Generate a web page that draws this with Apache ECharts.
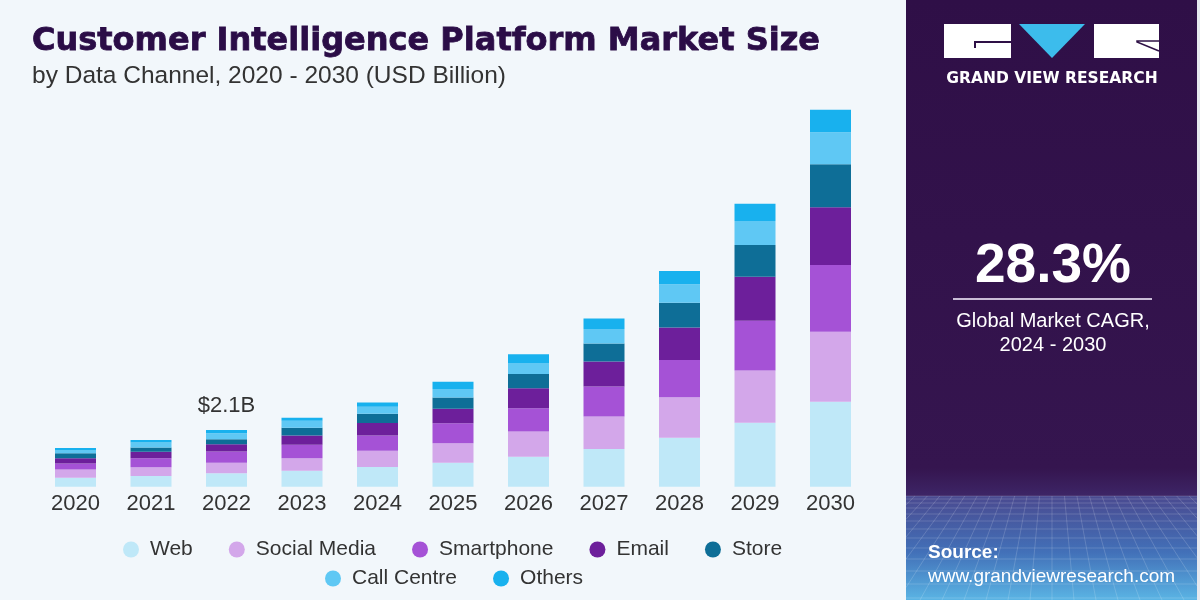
<!DOCTYPE html>
<html>
<head>
<meta charset="utf-8">
<script src="https://cdn.jsdelivr.net/npm/echarts@6/dist/echarts.min.js"></script>
<style>
html,body{margin:0;padding:0;background:#f2f7fb;}
#chart{width:1200px;height:600px;}
</style>
</head>
<body>
<div id="chart"></div>
<script>
const years = ['2020','2021','2022','2023','2024','2025','2026','2027','2028','2029','2030'];
const seriesNames = ['Web','Social Media','Smartphone','Email','Store','Call Centre','Others'];
const web         = [0.33,0.40,0.50,0.59,0.73,0.89,1.11,1.40,1.81,2.37,3.15];
const socialMedia = [0.31,0.32,0.39,0.46,0.60,0.72,0.93,1.20,1.50,1.93,2.59];
const smartphone  = [0.22,0.33,0.41,0.50,0.57,0.74,0.87,1.11,1.38,1.85,2.47];
const email       = [0.19,0.24,0.27,0.35,0.46,0.54,0.74,0.93,1.21,1.63,2.14];
const store       = [0.19,0.16,0.19,0.28,0.34,0.41,0.52,0.66,0.91,1.17,1.59];
const callCentre  = [0.10,0.19,0.22,0.26,0.26,0.32,0.41,0.54,0.69,0.89,1.19];
const others      = [0.09,0.09,0.12,0.11,0.16,0.27,0.33,0.39,0.49,0.64,0.83];
const colors = ['#bfe8f8','#d3a7ea','#a552d6','#6d1f9b','#0e6e97','#5fc8f4','#18b1ee'];
const annotatedIndex = 2;
const annotationText = '$2.1B';

const allData = [web, socialMedia, smartphone, email, store, callCentre, others];
const FONT = 'Liberation Sans, Arial, sans-serif';

const series = allData.map((arr, i) => ({
  name: seriesNames[i],
  type: 'bar',
  stack: 'total',
  barWidth: 41,
  itemStyle: { color: colors[i] },
  emphasis: { disabled: true },
  data: arr.map((v, j) => {
    if (i === allData.length - 1 && j === annotatedIndex) {
      return { value: v, label: { show: true, position: 'top', distance: 13, formatter: annotationText,
        color: '#333', fontSize: 22, fontFamily: FONT } };
    }
    return v;
  })
}));

const legendStyle = {
  icon: 'circle', itemWidth: 16, itemHeight: 16, itemGap: 36, padding: 0,
  textStyle: { color: '#333', fontSize: 21, fontFamily: FONT, padding: [0,0,0,6] },
  selectedMode: false
};

// decorative mesh in the bottom of the side panel
const PX0 = 906, PX1 = 1197, HY = 496, BY = 600;
const mesh = [];
const hLines = [496, 499, 503, 508, 514, 521, 529, 538, 548, 559, 571, 584, 598];
hLines.forEach(y => mesh.push({ type: 'line', silent: true,
  shape: { x1: PX0, y1: y, x2: PX1, y2: y }, style: { stroke: 'rgba(255,255,255,0.16)', lineWidth: 1 } }));
const vpX = 1052, vpY = 360;
for (let k = -16; k <= 16; k++) {
  const xb = vpX + k * 22;
  const xa = vpX + k * 22 * (HY - vpY) / (BY - vpY);
  let x1 = xa, y1 = HY, x2 = xb, y2 = BY;
  if (x1 < PX0 || x1 > PX1) continue;
  if (x2 < PX0 || x2 > PX1) {
    const bound = x2 < PX0 ? PX0 : PX1;
    const t = (bound - x1) / (x2 - x1);
    x2 = bound; y2 = y1 + t * (y2 - y1);
  }
  mesh.push({ type: 'line', silent: true, shape: { x1, y1, x2, y2 },
    style: { stroke: 'rgba(255,255,255,0.16)', lineWidth: 1 } });
}

const chart = echarts.init(document.getElementById('chart'));
chart.setOption({
  backgroundColor: '#f2f7fb',
  animation: false,
  title: [
    { text: 'Customer Intelligence Platform Market Size', left: 27, top: 21,
      textStyle: { color: '#2b0d47', fontSize: 32, fontWeight: 'bold', fontFamily: 'DejaVu Sans, sans-serif',
        textBorderColor: '#2b0d47', textBorderWidth: 0.8 } },
    { text: 'by Data Channel, 2020 - 2030 (USD Billion)', left: 27, top: 59,
      textStyle: { color: '#333', fontSize: 24.5, fontWeight: 'normal', fontFamily: FONT } }
  ],
  legend: [
    Object.assign({ data: seriesNames.slice(0,5), left: 123, top: 539 }, legendStyle),
    Object.assign({ data: seriesNames.slice(5), left: 325, top: 568 }, legendStyle)
  ],
  grid: { left: 37.75, right: 1200 - 868.25, top: 108.7, bottom: 113.3 },
  xAxis: {
    type: 'category', data: years,
    axisLine: { show: false }, axisTick: { show: false },
    axisLabel: { color: '#333', fontSize: 22, margin: 6, fontFamily: FONT }
  },
  yAxis: { type: 'value', min: 0, max: 14, show: false, splitLine: { show: false } },
  series: series,
  graphic: [
    { type: 'rect', shape: { x: 906, y: 0, width: 291, height: 600 }, silent: true, z: -1,
      style: { fill: new echarts.graphic.LinearGradient(0,0,0,1,[
        {offset:0,color:'#2f0f47'},{offset:0.78,color:'#35154f'},{offset:0.826,color:'#3d2566'},
        {offset:0.827,color:'#4a4a90'},{offset:0.92,color:'#4270b8'},{offset:1,color:'#5ab4e4'}]) } },
    { type: 'rect', shape: { x: 1197, y: 0, width: 3, height: 600 }, silent: true, style: { fill: '#e6e9ef' } },
    ...mesh,
    // logo
    { type: 'rect', shape: { x: 944, y: 24, width: 67, height: 34 }, style: { fill: '#ffffff' } },
    { type: 'polyline', shape: { points: [[975,48],[975,42],[1011,42]] }, style: { stroke: '#2e1046', lineWidth: 2, fill: null } },
    { type: 'polygon', shape: { points: [[1019,24],[1085,24],[1052,58]] }, style: { fill: '#3cbcec' } },
    { type: 'rect', shape: { x: 1094, y: 24, width: 65, height: 34 }, style: { fill: '#ffffff' } },
    { type: 'polyline', shape: { points: [[1159,51],[1137,42],[1137,41],[1159,41]] }, style: { stroke: '#2e1046', lineWidth: 1.5, fill: null } },
    { type: 'text', x: 1052, y: 79, style: { text: 'GRAND VIEW RESEARCH', fill: '#ffffff', fontSize: 15.5, fontWeight: 'bold',
      fontFamily: 'DejaVu Sans, sans-serif', align: 'center', verticalAlign: 'middle' } },
    // CAGR
    { type: 'text', x: 1053, y: 267, style: { text: '28.3%', fill: '#ffffff', fontSize: 55, fontWeight: 'bold',
      fontFamily: FONT, align: 'center', verticalAlign: 'middle' } },
    { type: 'line', shape: { x1: 953, y1: 299, x2: 1152, y2: 299 }, style: { stroke: '#c9bdd6', lineWidth: 2 } },
    { type: 'text', x: 1053, y: 321, style: { text: 'Global Market CAGR,', fill: '#ffffff', fontSize: 20,
      fontFamily: FONT, align: 'center', verticalAlign: 'middle' } },
    { type: 'text', x: 1053, y: 345, style: { text: '2024 - 2030', fill: '#ffffff', fontSize: 20,
      fontFamily: FONT, align: 'center', verticalAlign: 'middle' } },
    // source
    { type: 'text', x: 928, y: 553, style: { text: 'Source:', fill: '#ffffff', fontSize: 19, fontWeight: 'bold',
      fontFamily: FONT, align: 'left', verticalAlign: 'middle' } },
    { type: 'text', x: 928, y: 577, style: { text: 'www.grandviewresearch.com', fill: '#ffffff', fontSize: 19,
      fontFamily: FONT, align: 'left', verticalAlign: 'middle' } }
  ]
});
</script>
</body>
</html>
